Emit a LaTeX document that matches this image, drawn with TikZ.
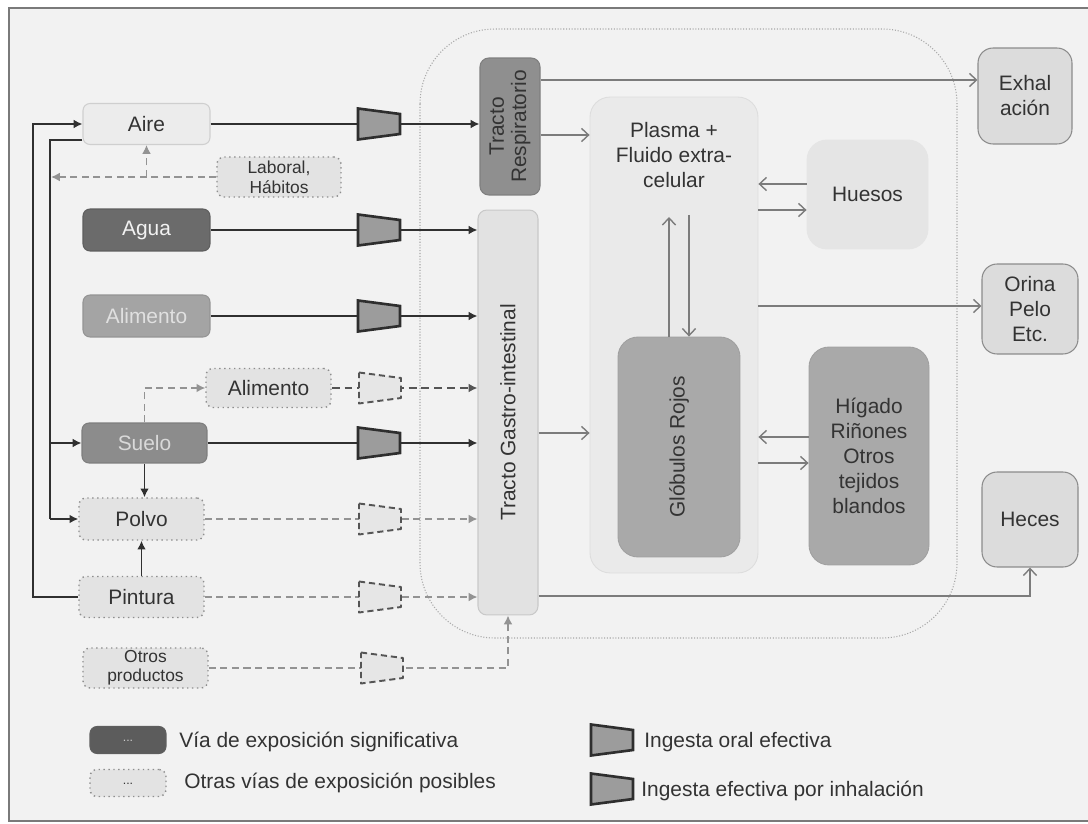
\documentclass[tikz,border=0pt]{standalone}
\usepackage{fontspec}
\setmainfont{Liberation Sans}
\usepackage{graphicx}
\usetikzlibrary{arrows.meta}
\definecolor{bg}{HTML}{F2F2F2}
\definecolor{framec}{HTML}{7A7A7A}
\definecolor{dk}{HTML}{303030}
\definecolor{gl}{HTML}{939393}
\definecolor{inl}{HTML}{7C7C7C}
\definecolor{textc}{HTML}{333333}
\definecolor{aireF}{HTML}{ECECEC}
\definecolor{aireD}{HTML}{CFCFCF}
\definecolor{aguaF}{HTML}{6B6B6B}
\definecolor{aguaD}{HTML}{5E5E5E}
\definecolor{alimF}{HTML}{A4A4A4}
\definecolor{sueloF}{HTML}{8C8C8C}
\definecolor{dotF}{HTML}{E3E3E3}
\definecolor{dotD}{HTML}{8E8E8E}
\definecolor{respF}{HTML}{8F8F8F}
\definecolor{respD}{HTML}{7F7F7F}
\definecolor{giF}{HTML}{E2E2E2}
\definecolor{giD}{HTML}{C9C9C9}
\definecolor{plasF}{HTML}{EAEAEA}
\definecolor{plasD}{HTML}{DDDDDD}
\definecolor{huesF}{HTML}{E5E5E5}
\definecolor{globF}{HTML}{A9A9A9}
\definecolor{globD}{HTML}{A0A0A0}
\definecolor{outF}{HTML}{DCDCDC}
\definecolor{outD}{HTML}{8C8C8C}
\definecolor{funF}{HTML}{9C9C9C}
\definecolor{funD}{HTML}{2E2E2E}
\definecolor{dfunF}{HTML}{E6E6E6}
\definecolor{dfunD}{HTML}{555555}
\definecolor{contc}{HTML}{A8A8A8}
\tikzset{
  sigbox/.style={rounded corners=4pt, line width=0.6pt, align=center, inner sep=1pt},
  dotbox/.style={rounded corners=4pt, fill=dotF, draw=dotD, dotted, line width=0.8pt, text=textc, align=center, inner sep=1pt},
  bigbox/.style={rounded corners=0.4cm, line width=0.5pt, align=center, text=textc, inner sep=1pt},
  outbox/.style={rounded corners=0.3cm, fill=outF, draw=outD, line width=0.6pt, align=center, text=textc, inner sep=1pt},
  dkarr/.style={draw=dk, line width=1.1pt, -{Latex[length=5pt,width=5pt]}},
  dkline/.style={draw=dk, line width=1.1pt},
  gdarr/.style={draw=gl, line width=0.9pt, dash pattern=on 4pt off 2.6pt, -{Latex[length=5pt,width=5pt]}},
  ddarr/.style={draw=dfunD, line width=1.2pt, dash pattern=on 4.5pt off 2.8pt, -{Latex[length=5pt,width=5pt]}},
  inarr/.style={draw=inl, line width=0.8pt, -{Straight Barb[length=4pt,width=7.5pt]}},
  txt/.style={inner sep=0pt, text=textc, anchor=west},
  funnel/.pic={\draw[line width=1.5pt, draw=funD, fill=funF, line join=miter] (-21,-15.5) -- (21,-10) -- (21,10) -- (-21,15.5) -- cycle;},
  dfunnel/.pic={\draw[line width=1.1pt, draw=dfunD, fill=dfunF, dash pattern=on 3.5pt off 2.2pt, line join=round] (-21,-15.5) -- (21,-10) -- (21,10) -- (-21,15.5) -- cycle;}
}
\begin{document}
\begin{tikzpicture}[x=0.02cm, y=-0.02cm, font=\fontsize{11.9}{14.2}\selectfont]
\useasboundingbox (0,0) rectangle (1088,824);
\fill[white] (0,0) rectangle (1088,824);
\draw[framec, line width=1pt, fill=bg] (9,8) rectangle (1110,821);

% container
\draw[contc, densely dotted, line width=0.6pt, rounded corners=1.5cm] (420,29) rectangle (957,638);

% left source boxes
\node[sigbox, fill=aireF, draw=aireD, text=textc, minimum width=2.54cm, minimum height=0.82cm] (aire) at (146.5,124) {Aire};
\node[dotbox, minimum width=2.48cm, minimum height=0.80cm, font=\fontsize{9.9}{11.3}\selectfont] (lab) at (279,177) {Laboral,\\Hábitos};
\node[sigbox, fill=aguaF, draw=aguaD, text=white!95!black, minimum width=2.54cm, minimum height=0.84cm] (agua) at (146.5,230) {Agua};
\node[sigbox, fill=alimF, draw=alimF!90!black, text=white!88!black, minimum width=2.54cm, minimum height=0.84cm] (alim1) at (146.5,316) {Alimento};
\node[dotbox, minimum width=2.5cm, minimum height=0.78cm] (alim2) at (268.5,388) {Alimento};
\node[sigbox, fill=sueloF, draw=sueloF!90!black, text=white!85!black, minimum width=2.5cm, minimum height=0.80cm] (suelo) at (144.5,443) {Suelo};
\node[dotbox, minimum width=2.5cm, minimum height=0.84cm] (polvo) at (141.5,519) {Polvo};
\node[dotbox, minimum width=2.5cm, minimum height=0.82cm] (pint) at (141.5,597) {Pintura};
\node[dotbox, minimum width=2.5cm, minimum height=0.80cm, font=\fontsize{9.9}{11}\selectfont] (otros) at (145.5,668) {Otros\\productos};

% inner boxes
\node[sigbox, fill=respF, draw=respD, text=textc, minimum width=1.2cm, minimum height=2.74cm, rounded corners=5pt] (resp) at (510,126.5) {\rotatebox{90}{\begin{tabular}{@{}c@{}}Tracto\\[-1.5pt]Respiratorio\end{tabular}}};
\node[sigbox, fill=giF, draw=giD, text=textc, minimum width=1.2cm, minimum height=8.1cm, rounded corners=5pt] (gi) at (508,412.5) {\rotatebox{90}{Tracto Gastro-intestinal}};
\node[bigbox, fill=plasF, draw=plasD, minimum width=3.36cm, minimum height=9.52cm] (plasma) at (674,335) {};
\node[inner sep=0pt, text=textc, align=center] (plastxt) at (674,155) {Plasma +\\Fluido extra-\\celular};
\node[bigbox, fill=huesF, draw=huesF, minimum width=2.42cm, minimum height=2.18cm] (huesos) at (867.5,194.5) {Huesos};
\node[bigbox, fill=globF, draw=globD, minimum width=2.44cm, minimum height=4.4cm] (glob) at (679,447) {\rotatebox{90}{Glóbulos Rojos}};
\node[bigbox, fill=globF, draw=globD, minimum width=2.4cm, minimum height=4.36cm] (hig) at (869,456) {Hígado\\Riñones\\Otros\\tejidos\\blandos};

% outputs
\node[outbox, minimum width=1.88cm, minimum height=1.92cm] (exhal) at (1025,96) {Exhal\\ación};
\node[outbox, minimum width=1.92cm, minimum height=1.8cm] (orina) at (1030,309) {Orina\\Pelo\\Etc.};
\node[outbox, minimum width=1.92cm, minimum height=1.9cm] (heces) at (1030,519.5) {Heces};

% left feed lines
\draw[dkarr] (pint.west) -- (33,597) -- (33,124) -- (aire.west);
\coordinate (jA) at (50,140);
\draw[dkline] (jA -| aire.west) -- (jA) -- (50,519);
\draw[dkarr] (50,443) -- (suelo.west);
\draw[dkarr] (50,519) -- (polvo.west);
\draw[gdarr] (lab.west) -- (lab.west -| 51,0);
\draw[gdarr] (aire.south |- lab.west) -- (aire.south);
\draw[gdarr] (suelo.north) |- (alim2.west);
\draw[dkarr] (suelo.south) -- (suelo.south |- polvo.north);
\draw[dkarr] (pint.north) -- (pint.north |- polvo.south);

% routes into the body
\draw[dkarr] (aire.east) -- (aire.east -| resp.west);
\draw[dkarr] (agua.east) -- (agua.east -| gi.west);
\draw[dkarr] (alim1.east) -- (alim1.east -| gi.west);
\draw[ddarr] (alim2.east) -- (alim2.east -| gi.west);
\draw[dkarr] (suelo.east) -- (suelo.east -| gi.west);
\draw[gdarr] (polvo.east) -- (polvo.east -| gi.west);
\draw[gdarr] (pint.east) -- (pint.east -| gi.west);
\draw[gdarr] (otros.east) -| (gi.south);

\pic at (379,124) {funnel};
\pic at (379,230) {funnel};
\pic at (379,316) {funnel};
\pic at (380,388) {dfunnel};
\pic at (379,443) {funnel};
\pic at (380,519) {dfunnel};
\pic at (380,597) {dfunnel};
\pic at (382,668) {dfunnel};

% internal transfers
\draw[inarr] (resp.east |- 0,80) -- (exhal.west |- 0,80);
\draw[inarr] (resp.east |- 0,135) -- (plasma.west |- 0,135);
\draw[inarr] (huesos.west |- 0,184) -- (plasma.east |- 0,184);
\draw[inarr] (plasma.east |- 0,210) -- (huesos.west |- 0,210);
\draw[inarr] (plasma.east |- 0,306) -- (orina.west |- 0,306);
\draw[inarr] (glob.north -| 669,0) -- (669,217);
\draw[inarr] (689,215) -- (glob.north -| 689,0);
\draw[inarr] (gi.east |- 0,433) -- (plasma.west |- 0,433);
\draw[inarr] (hig.west |- 0,437) -- (plasma.east |- 0,437);
\draw[inarr] (plasma.east |- 0,463) -- (hig.west |- 0,463);
\draw[inarr] (gi.east |- 0,596) -| (heces.south);

% legend
\node[sigbox, fill=aguaF!110!white, draw=aguaD, text=white!80!black, minimum width=1.52cm, minimum height=0.54cm, font=\fontsize{7}{8}\selectfont] (lg1) at (128,740) {\raisebox{-2pt}{...}};
\node[dotbox, minimum width=1.52cm, minimum height=0.54cm, font=\fontsize{7}{8}\selectfont] (lg2) at (128,783) {\raisebox{-2pt}{...}};
\node[txt] (lt1) at (179,742) {Vía de exposición significativa};
\node[txt] (lt2) at (184,783) {Otras vías de exposición posibles};
\pic at (612,740) {funnel};
\pic at (612,789) {funnel};
\node[txt] (lt3) at (644,742) {Ingesta oral efectiva};
\node[txt] (lt4) at (641,791) {Ingesta efectiva por inhalación};
\end{tikzpicture}
\end{document}
